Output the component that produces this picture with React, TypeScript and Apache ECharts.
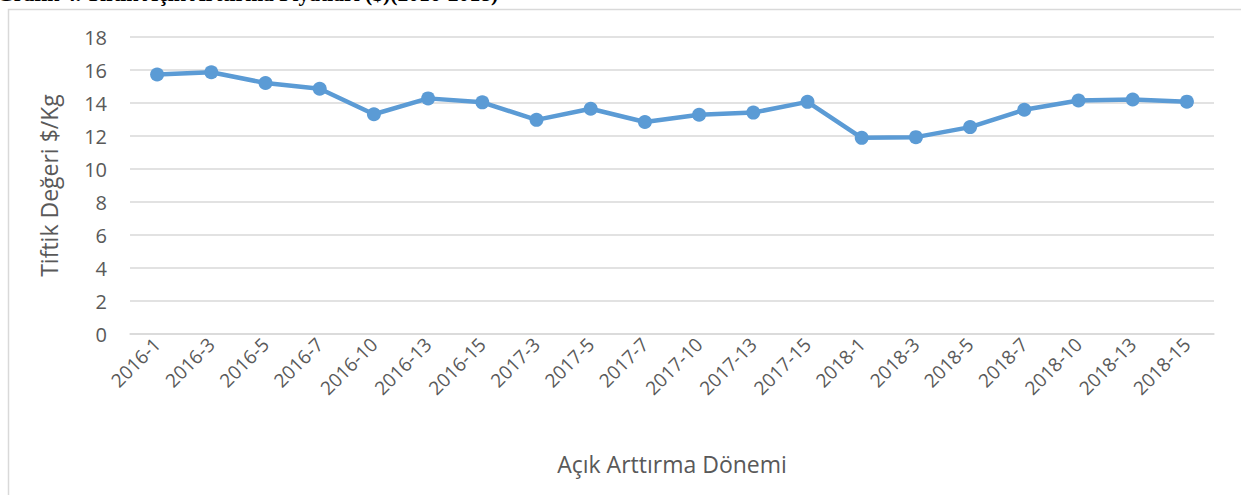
import React, { useEffect, useRef } from "react";
import * as echarts from "echarts";

const categories = [
  "2016-1", "2016-3", "2016-5", "2016-7", "2016-10", "2016-13", "2016-15",
  "2017-3", "2017-5", "2017-7", "2017-10", "2017-13", "2017-15",
  "2018-1", "2018-3", "2018-5", "2018-7", "2018-10", "2018-13", "2018-15",
];
const values = [
  15.73, 15.86, 15.21, 14.86, 13.32, 14.28, 14.04,
  12.98, 13.65, 12.85, 13.29, 13.42, 14.07,
  11.89, 11.93, 12.54, 13.59, 14.15, 14.21, 14.08,
];
const titleText = "Grafik 4. Tiftik Açık Arttırma Fiyatları ($)(2016-2018)";
const yAxisName = "Tiftik Değeri $/Kg";
const xAxisName = "Açık Arttırma Dönemi";

const FONT = "'Open Sans'";

export default function App() {
  const ref = useRef<HTMLDivElement>(null);
  useEffect(() => {
    if (!ref.current) return;
    const chart = echarts.init(ref.current, null, { renderer: "svg" });
    chart.setOption({
      animation: false,
      backgroundColor: "#ffffff",
      graphic: [
        {
          type: "rect",
          shape: { x: 8.5, y: 9.5, width: 1300, height: 600 },
          style: { fill: "none", stroke: "#d9d9d9", lineWidth: 1.5 },
          silent: true,
        },
        {
          type: "text",
          x: -3,
          y: 5,
          style: {
            text: titleText,
            font: "bold 21.6px 'Liberation Serif'",
            fill: "#000000",
            textVerticalAlign: "bottom",
          },
          silent: true,
        },
      ],
      grid: { left: 130, right: 27, top: 37, bottom: 161, containLabel: false },
      xAxis: {
        type: "category",
        data: categories,
        boundaryGap: true,
        axisLine: { show: true, lineStyle: { color: "#d9d9d9", width: 1.5 } },
        axisTick: { show: false },
        axisLabel: {
          rotate: 45,
          interval: 0,
          margin: 7,
          fontSize: 19,
          color: "#595959",
          fontFamily: FONT,
        },
        name: xAxisName,
        nameLocation: "middle",
        nameGap: 118,
        nameTextStyle: { fontSize: 23, color: "#595959", fontFamily: FONT },
      },
      yAxis: {
        type: "value",
        min: 0,
        max: 18,
        interval: 2,
        axisLine: { show: false },
        axisTick: { show: false },
        splitLine: { lineStyle: { color: "#d9d9d9", width: 1.5 } },
        axisLabel: { fontSize: 20, color: "#595959", margin: 23, fontFamily: FONT },
        name: yAxisName,
        nameLocation: "middle",
        nameRotate: 90,
        nameGap: 70,
        nameTextStyle: { fontSize: 23, color: "#595959", fontFamily: FONT },
      },
      series: [
        {
          type: "line",
          data: values,
          symbol: "circle",
          symbolSize: 14,
          lineStyle: { color: "#5b9bd5", width: 4.5 },
          itemStyle: { color: "#5b9bd5" },
        },
      ],
    });
    return () => chart.dispose();
  }, []);
  return (
    <div
      ref={ref}
      style={{ position: "absolute", left: 0, top: 0, width: 1241, height: 495 }}
    />
  );
}
